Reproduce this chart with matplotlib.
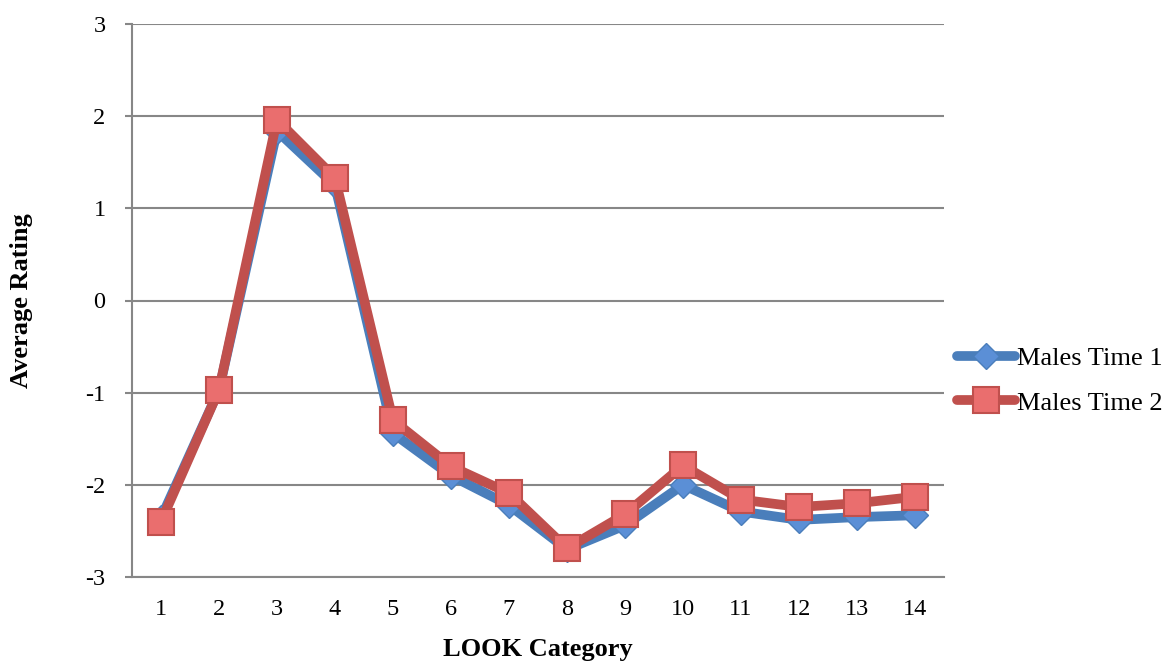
import matplotlib.pyplot as plt

categories = list(range(1, 15))
males_time1 = [-2.36, -0.97, 1.84, 1.25, -1.44, -1.90, -2.22, -2.70, -2.44, -2.00, -2.29, -2.38, -2.35, -2.33]
males_time2 = [-2.40, -0.97, 1.96, 1.33, -1.30, -1.80, -2.09, -2.69, -2.32, -1.79, -2.16, -2.24, -2.20, -2.13]
y_ticks = [-3, -2, -1, 0, 1, 2, 3]

plt.rcParams["font.family"] = ["Liberation Serif", "DejaVu Serif"]
plt.rcParams["axes.unicode_minus"] = False

fig = plt.figure(figsize=(11.73, 6.62), dpi=100)
ax = fig.add_axes([132 / 1173, 1 - 577 / 662, (944 - 132) / 1173, (577 - 24) / 662])

ax.plot(categories, males_time1, color="#4a7ebb", lw=7, marker="D", ms=13,
        mfc="#5b8fd6", mec="#4a7ebb", mew=1, label="Males Time 1", zorder=3,
        solid_capstyle="round")
ax.plot(categories, males_time2, color="#c0504d", lw=7, marker="s", ms=18.5,
        mfc="#ea6e6e", mec="#c0504d", mew=1.5, label="Males Time 2", zorder=4,
        solid_capstyle="round")

ax.set_xlim(0.5, 14.5)
ax.set_ylim(-3, 3)
ax.set_xticks(categories)
ax.set_yticks(y_ticks)
ax.tick_params(axis="x", length=0, labelsize=17.5, pad=16)
ax.tick_params(axis="y", length=5, width=1.5, color="#878787", labelsize=17.5, pad=14)

ax.grid(axis="y", color="#878787", lw=1.5)
ax.set_axisbelow(True)
for s in ["top", "right"]:
    ax.spines[s].set_visible(False)
for s in ["left", "bottom"]:
    ax.spines[s].set_color("#878787")
    ax.spines[s].set_linewidth(1.5)

ax.set_xlabel("LOOK Category", fontsize=19, fontweight="bold", labelpad=13)
ax.set_ylabel("Average Rating", fontsize=19, fontweight="bold", labelpad=38)

leg = ax.legend(loc="center left", bbox_to_anchor=(1.0, 0.355), frameon=False,
                fontsize=19, handlelength=2.2, handletextpad=0.05, labelspacing=0.8,
                borderaxespad=0.3, borderpad=0.2)

fig.savefig("out.png", dpi=100)
